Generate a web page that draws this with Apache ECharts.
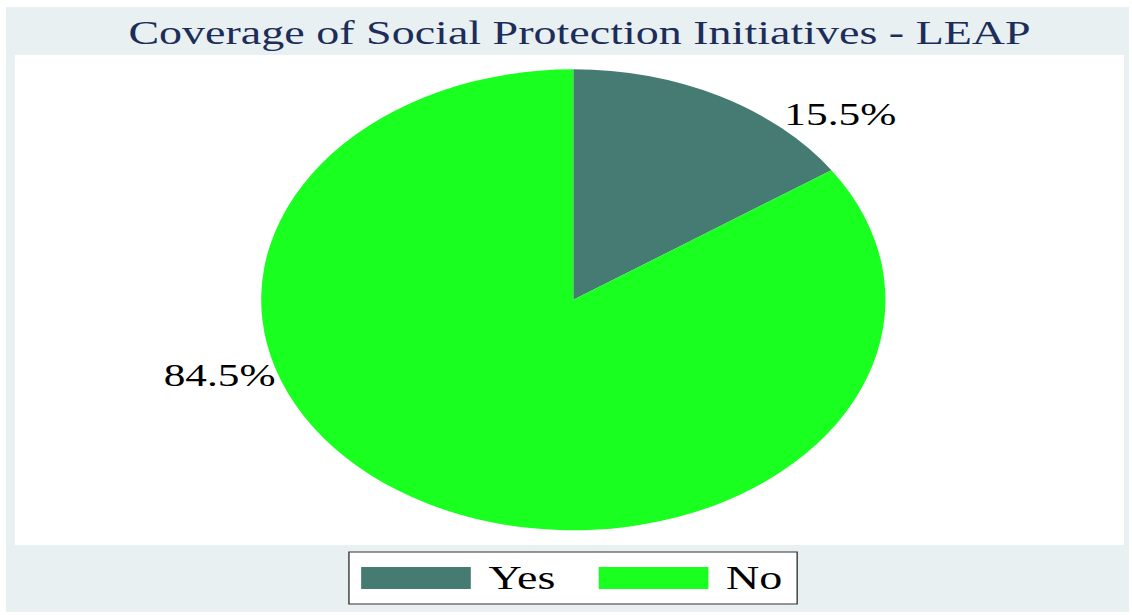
<!DOCTYPE html>
<html>
<head>
<meta charset="utf-8">
<script src="https://cdn.jsdelivr.net/npm/echarts@6/dist/echarts.min.js"></script>
<style>
    html, body { margin: 0; padding: 0; background: #ffffff; overflow: hidden; }
    /* the original graph is stretched sideways (elliptic pie), so draw narrow and stretch */
    #main { width: 836px; height: 615px; transform: scaleX(1.35407); transform-origin: 0 0; }
</style>
</head>
<body>
<div id="main"></div>
<script>
var titleText = 'Coverage of Social Protection Initiatives - LEAP';
var categories = ['Yes', 'No'];
var shares = [15.5, 84.5];

var sliceColors = ['#457b73', '#19ff1f'];

var myChart = echarts.init(document.getElementById('main'), null, {renderer: 'svg'});

var pieData = categories.map(function (name, i) {
    return {name: name, value: shares[i], itemStyle: {color: sliceColors[i]}};
});

var option = {
    animation: false,
    textStyle: {fontFamily: '"Liberation Serif", "Times New Roman", serif'},
    graphic: [{
        type: 'rect',
        z: -10,
        shape: {x: 4.4, y: 7, width: 829.4, height: 605},
        style: {fill: '#e9f0f2'}
    }, {
        type: 'rect',
        z: -9,
        shape: {x: 11.1, y: 55, width: 819, height: 490},
        style: {fill: '#ffffff'}
    }],
    title: {
        text: titleText,
        left: 423,
        top: 11,
        textAlign: 'center',
        textStyle: {
            fontFamily: '"Liberation Serif", "Times New Roman", serif',
            fontWeight: 'normal',
            fontSize: 34,
            color: '#1c2d5a'
        }
    },
    legend: {
        data: categories,
        left: 257.7,
        top: 552,
        orient: 'horizontal',
        itemWidth: 81,
        itemHeight: 22,
        itemGap: 32,
        padding: [9, 11, 9, 9],
        backgroundColor: '#ffffff',
        borderColor: '#333333',
        borderWidth: 1,
        borderRadius: 0,
        icon: 'rect',
        selectedMode: false,
        textStyle: {
            fontFamily: '"Liberation Serif", "Times New Roman", serif',
            fontSize: 34,
            color: '#000000',
            padding: [0, 0, 0, 8]
        }
    },
    series: [{
        type: 'pie',
        center: [423.4, 299.8],
        radius: [0, 230.5],
        startAngle: 90,
        clockwise: true,
        label: {
            show: true,
            position: 'outside',
            formatter: '{c}%',
            fontFamily: '"Liberation Serif", "Times New Roman", serif',
            fontSize: 32,
            color: '#000000'
        },
        labelLine: {show: false, length: 0, length2: 0},
        labelLayout: function (params) {
            if (params.dataIndex === 0) {
                return {dx: 43, dy: 18};
            }
            return {dx: -107, dy: -128};
        },
        emphasis: {disabled: true},
        itemStyle: {borderWidth: 0},
        data: pieData
    }]
};

myChart.setOption(option);
</script>
</body>
</html>
